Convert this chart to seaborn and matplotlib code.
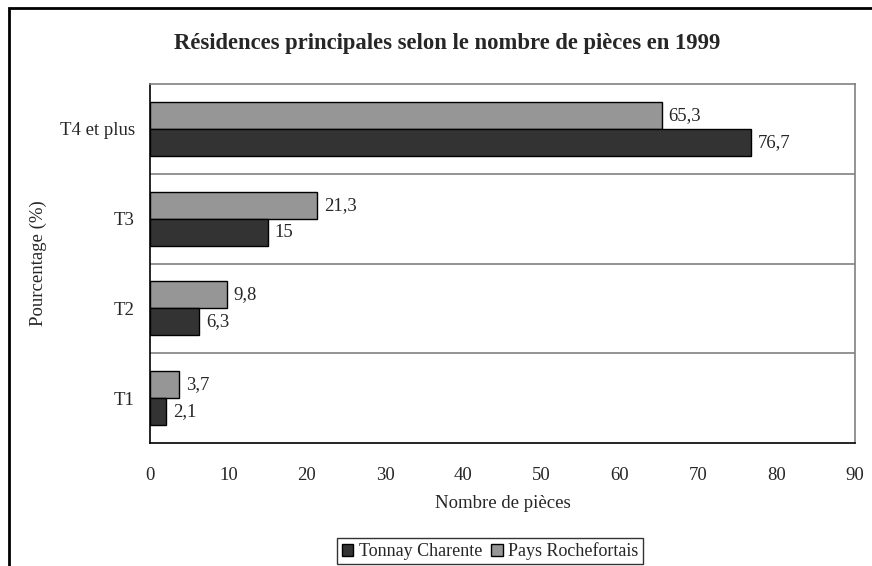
import matplotlib
matplotlib.use("Agg")
import matplotlib.pyplot as plt
from matplotlib.patches import Rectangle, Patch
import seaborn as sns
import pandas as pd

categories = ["T4 et plus", "T3", "T2", "T1"]
tonnay = [76.7, 15, 6.3, 2.1]
rochefort = [65.3, 21.3, 9.8, 3.7]
series_names = ["Tonnay Charente", "Pays Rochefortais"]
series_colors = {"Tonnay Charente": "#333333", "Pays Rochefortais": "#969696"}
x_ticks = list(range(0, 100, 10))

sns.set_theme(style="white")
plt.rcParams["font.family"] = ["Liberation Serif", "DejaVu Serif"]

df = pd.DataFrame({
    "cat": categories * 2,
    "val": tonnay + rochefort,
    "serie": [series_names[0]] * 4 + [series_names[1]] * 4,
})

FS = 13.5

fig = plt.figure(figsize=(8.72, 5.66), dpi=100)
ax = fig.add_axes([150 / 872, 1 - 443 / 566, 705 / 872, (443 - 84) / 566])

sns.barplot(data=df, y="cat", x="val", hue="serie", order=categories,
            hue_order=[series_names[1], series_names[0]],
            palette=series_colors, orient="h", width=0.6,
            edgecolor="black", linewidth=1.0, legend=False, ax=ax)

# value labels with French decimal comma
for cont in ax.containers:
    labels = [f"{v:g}".replace(".", ",") for v in cont.datavalues]
    ax.bar_label(cont, labels=labels, padding=5, fontsize=FS)

ax.set_xlim(0, 90)
ax.set_ylim(3.5, -0.5)
ax.set_xticks(x_ticks)
ax.set_xticklabels([str(t) for t in x_ticks], fontsize=FS)
ax.tick_params(axis="x", direction="out", length=5, width=1, color="black", pad=12)
ax.tick_params(axis="y", which="major", length=0, pad=11, labelsize=FS)
ax.set_yticks([0.5, 1.5, 2.5, 3.5], minor=True)
ax.tick_params(axis="y", which="minor", direction="out", length=6, width=1, color="black")

for b in [0.5, 1.5, 2.5]:
    ax.axhline(b, color="#808080", lw=1.2, zorder=0)

for s in ["top", "right"]:
    ax.spines[s].set_color("#808080")
    ax.spines[s].set_linewidth(1.2)
for s in ["left", "bottom"]:
    ax.spines[s].set_color("black")
    ax.spines[s].set_linewidth(1.2)

ax.set_xlabel("")
ax.set_ylabel("")
fig.text(503 / 872, 1 - 503 / 566, "Nombre de pièces", ha="center", va="center", fontsize=FS)
fig.text(38 / 872, 1 - 263 / 566, "Pourcentage (%)", rotation=90,
         ha="center", va="center", fontsize=FS)

fig.text(447 / 872, 1 - 44 / 566, "Résidences principales selon le nombre de pièces en 1999",
         ha="center", va="center", fontsize=16.3, fontweight="bold")

handles = [Patch(facecolor=series_colors[n], edgecolor="black", label=n) for n in series_names]
fig.legend(handles=handles, loc="center", bbox_to_anchor=(490 / 872, 1 - 551 / 566),
           ncol=2, frameon=True, fancybox=False, edgecolor="black", fontsize=13,
           handlelength=0.65, handleheight=0.65, handletextpad=0.3, columnspacing=0.5,
           borderpad=0.25)
leg = fig.legends[0]
leg.get_frame().set_linewidth(1.0)

# outer chart frame
fig.patches.append(Rectangle((9 / 872, -0.1), 1.0, 1 - 8 / 566 + 0.1,
                             transform=fig.transFigure, fill=False,
                             edgecolor="black", linewidth=2))

fig.savefig("out.png", dpi=100)
